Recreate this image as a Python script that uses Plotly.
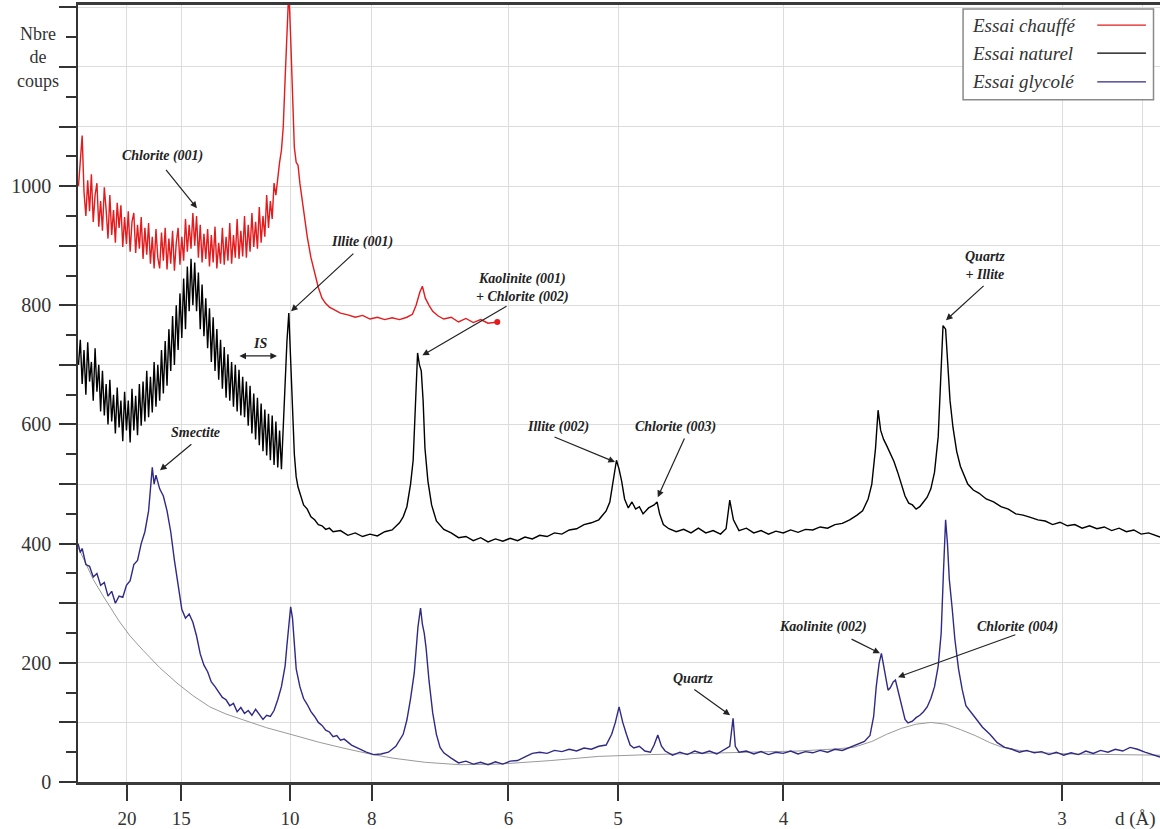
import numpy as np
import plotly.graph_objects as go

# ---------------- data (x = 2-theta in degrees, Cu K-alpha; y = counts) ----------------
LAMBDA = 1.5406
d_ticks = [20, 15, 10, 8, 6, 5, 4, 3]
d_labels = ["20", "15", "10", "8", "6", "5", "4", "3"]

red_2theta = [3.10, 3.15, 3.20, 3.25, 3.30, 3.35, 3.40, 3.45, 3.50, 3.55,
              3.60, 3.65, 3.70, 3.75, 3.80, 3.85, 3.90, 3.95, 4.00, 4.05,
              4.10, 4.15, 4.20, 4.25, 4.30, 4.35, 4.40, 4.45, 4.50, 4.55,
              4.60, 4.65, 4.70, 4.75, 4.80, 4.85, 4.90, 4.95, 5.00, 5.05,
              5.10, 5.15, 5.20, 5.25, 5.30, 5.35, 5.40, 5.45, 5.50, 5.55,
              5.60, 5.65, 5.70, 5.75, 5.80, 5.85, 5.90, 5.95, 6.00, 6.05,
              6.10, 6.15, 6.20, 6.25, 6.30, 6.35, 6.40, 6.45, 6.50, 6.55,
              6.60, 6.65, 6.70, 6.75, 6.80, 6.85, 6.90, 6.95, 7.00, 7.05,
              7.10, 7.15, 7.20, 7.25, 7.30, 7.35, 7.40, 7.45, 7.50, 7.55,
              7.60, 7.65, 7.70, 7.75, 7.80, 7.85, 7.90, 7.95, 8.00, 8.05,
              8.10, 8.15, 8.20, 8.25, 8.30, 8.35, 8.40, 8.45, 8.50, 8.55,
              8.60, 8.65, 8.70, 8.75, 8.80, 8.85, 8.90, 8.95, 9.00, 9.05,
              9.10, 9.20, 9.30, 9.40, 9.50, 9.60, 9.70, 9.80, 9.90, 10.05,
              10.20, 10.40, 10.60, 10.80, 11.00, 11.20, 11.40, 11.60, 11.80, 12.00,
              12.15, 12.25, 12.35, 12.42, 12.50, 12.60, 12.70, 12.85, 13.00, 13.20,
              13.40, 13.60, 13.80, 14.00, 14.20, 14.45]
red_counts = [1000, 1040, 1085, 990, 950, 1010, 958, 1020, 940, 985,
              1005, 932, 975, 925, 998, 960, 912, 985, 918, 960,
              905, 972, 930, 968, 898, 948, 903, 958, 890, 940,
              955, 888, 935, 895, 948, 878, 930, 885, 938, 870,
              915, 862, 928, 880, 862, 922, 875, 930, 860, 912,
              870, 925, 858, 905, 930, 868, 915, 875, 945, 890,
              935, 895, 955, 900, 950, 880, 935, 872, 920, 878,
              928, 865, 918, 872, 932, 862, 905, 870, 930, 868,
              915, 875, 938, 870, 918, 880, 945, 878, 925, 882,
              950, 880, 935, 890, 955, 898, 940, 895, 965, 905,
              950, 915, 985, 930, 975, 945, 1005, 985, 1015, 1040,
              1060, 1100, 1180, 1250, 1330, 1250, 1150, 1065, 1040, 1035,
              1005, 960, 915, 880, 855, 830, 812, 803, 797, 792,
              787, 784, 780, 783, 777, 780, 776, 779, 776, 780,
              785, 800, 822, 832, 812, 800, 790, 782, 777, 780,
              772, 778, 771, 776, 770, 772]

black_2theta = [3.10, 3.15, 3.20, 3.25, 3.30, 3.35, 3.40, 3.45, 3.50, 3.55,
                3.60, 3.65, 3.70, 3.75, 3.80, 3.85, 3.90, 3.95, 4.00, 4.05,
                4.10, 4.15, 4.20, 4.25, 4.30, 4.35, 4.40, 4.45, 4.50, 4.55,
                4.60, 4.65, 4.70, 4.75, 4.80, 4.85, 4.90, 4.95, 5.00, 5.05,
                5.10, 5.15, 5.20, 5.25, 5.30, 5.35, 5.40, 5.45, 5.50, 5.55,
                5.60, 5.65, 5.70, 5.75, 5.80, 5.85, 5.90, 5.95, 6.00, 6.05,
                6.10, 6.15, 6.20, 6.25, 6.30, 6.35, 6.40, 6.45, 6.50, 6.55,
                6.60, 6.65, 6.70, 6.75, 6.80, 6.85, 6.90, 6.95, 7.00, 7.05,
                7.10, 7.15, 7.20, 7.25, 7.30, 7.35, 7.40, 7.45, 7.50, 7.55,
                7.60, 7.65, 7.70, 7.75, 7.80, 7.85, 7.90, 7.95, 8.00, 8.05,
                8.10, 8.15, 8.20, 8.25, 8.30, 8.35, 8.40, 8.45, 8.50, 8.55,
                8.60, 8.65, 8.70, 8.75, 8.80,
                8.85, 8.9, 8.95, 9.0, 9.05, 9.1, 9.2, 9.3, 9.4, 9.5,
                9.6, 9.7, 9.8, 9.9, 10.0, 10.2, 10.4, 10.6, 10.8, 11.0,
                11.2, 11.4, 11.6, 11.8, 11.9, 12.0, 12.1, 12.17, 12.22, 12.29,
                12.34, 12.39, 12.44, 12.49, 12.57, 12.67, 12.8, 13.0, 13.2, 13.4,
                13.6, 13.8, 14.0, 14.2, 14.4, 14.6, 14.8, 15.0, 15.2, 15.4,
                15.6, 15.8, 16.0, 16.2, 16.4, 16.6, 16.8, 17.0, 17.2, 17.4,
                17.5, 17.6, 17.68, 17.75, 17.82, 17.9, 18.0, 18.1, 18.2, 18.3,
                18.4, 18.55, 18.7, 18.78, 18.85, 18.95, 19.1, 19.3, 19.5, 19.7,
                19.9, 20.1, 20.3, 20.5, 20.65, 20.75, 20.85, 21.0, 21.2, 21.4,
                21.6, 21.8, 22.0, 22.2, 22.4, 22.6, 22.8, 23.0, 23.2, 23.4,
                23.6, 23.8, 24.0, 24.2, 24.35, 24.5, 24.6, 24.7, 24.77, 24.84,
                24.92, 25.0, 25.1, 25.2, 25.3, 25.4, 25.5, 25.6, 25.7, 25.8,
                25.9, 26.0, 26.1, 26.2, 26.3, 26.4, 26.47, 26.53, 26.6, 26.66,
                26.72, 26.8, 26.9, 27.0, 27.1, 27.2, 27.35, 27.5, 27.7, 27.9,
                28.1, 28.3, 28.5, 28.7, 28.9, 29.1, 29.3, 29.5, 29.7, 29.9,
                30.1, 30.3, 30.5, 30.7, 30.9, 31.1, 31.3, 31.5, 31.7, 31.9,
                32.1, 32.41]
black_counts = [700, 742, 668, 725, 650, 738, 672, 705, 640, 728,
                655, 700, 622, 690, 615, 668, 600, 675, 605, 650,
                585, 662, 595, 640, 572, 655, 590, 640, 570, 660,
                590, 648, 582, 668, 598, 672, 605, 690, 612, 680,
                620, 705, 630, 700, 640, 725, 652, 740, 665, 760,
                690, 782, 700, 800, 725, 820, 745, 845, 760, 865,
                790, 878, 800, 872, 790, 855, 760, 835, 748, 812,
                728, 795, 705, 780, 690, 760, 675, 742, 660, 730,
                645, 718, 640, 705, 630, 700, 622, 692, 615, 680,
                612, 672, 598, 665, 585, 652, 575, 645, 565, 635,
                555, 625, 548, 618, 540, 615, 532, 605, 528, 590,
                525, 600, 680, 740, 787,
                700, 615, 550, 512, 495, 485, 465, 458, 445, 440,
                432, 430, 424, 426, 420, 422, 414, 418, 412, 416,
                413, 420, 423, 435, 445, 462, 500, 540, 610, 720,
                700, 690, 640, 560, 505, 465, 438, 424, 418, 410,
                412, 405, 410, 403, 408, 404, 409, 405, 411, 408,
                414, 412, 418, 416, 423, 425, 432, 435, 440, 455,
                470, 505, 540, 525, 505, 475, 460, 470, 458, 462,
                450, 460, 465, 470, 450, 432, 425, 420, 424, 418,
                426, 418, 422, 416, 425, 473, 440, 422, 426, 418,
                422, 416, 421, 418, 423, 419, 424, 423, 428, 426,
                432, 434, 440, 448, 455, 475, 500, 560, 624, 590,
                575, 565, 552, 538, 520, 500, 480, 468, 465, 458,
                462, 470, 478, 492, 520, 580, 690, 766, 760, 690,
                640, 595, 555, 530, 515, 500, 490, 485, 475, 470,
                462, 458, 450, 448, 444, 440, 438, 432, 436, 430,
                432, 426, 430, 425, 428, 422, 426, 420, 423, 416,
                418, 411]

blue_2theta = [3.09, 3.15, 3.2, 3.3, 3.4, 3.5, 3.6, 3.7, 3.8, 3.9,
               4.0, 4.1, 4.2, 4.3, 4.4, 4.5, 4.6, 4.7, 4.8, 4.9,
               5.0, 5.05, 5.1, 5.15, 5.2, 5.3, 5.4, 5.5, 5.6, 5.7,
               5.8, 5.9, 6.0, 6.1, 6.2, 6.3, 6.4, 6.5, 6.6, 6.7,
               6.8, 6.9, 7.0, 7.1, 7.2, 7.3, 7.4, 7.5, 7.6, 7.7,
               7.8, 7.9, 8.0, 8.1, 8.2, 8.3, 8.4, 8.5, 8.6, 8.7,
               8.75, 8.8, 8.85, 8.9, 8.95, 9.0, 9.1, 9.2, 9.3, 9.4,
               9.5, 9.6, 9.7, 9.8, 9.9, 10.0, 10.1, 10.2, 10.3, 10.5,
               10.7, 10.9, 11.1, 11.3, 11.5, 11.7, 11.9, 12.0, 12.1, 12.2,
               12.3, 12.37, 12.42, 12.47, 12.52, 12.6, 12.7, 12.8, 12.9, 13.0,
               13.2, 13.4, 13.6, 13.8, 14.0, 14.2, 14.4, 14.6, 14.8, 15.0,
               15.2, 15.4, 15.6, 15.8, 16.0, 16.2, 16.4, 16.6, 16.8, 17.0,
               17.2, 17.4, 17.55, 17.65, 17.75, 17.85, 17.95, 18.05, 18.15, 18.3,
               18.45, 18.6, 18.7, 18.8, 18.9, 19.0, 19.2, 19.4, 19.6, 19.8,
               20.0, 20.2, 20.4, 20.6, 20.75, 20.84, 20.9, 21.0, 21.2, 21.4,
               21.6, 21.8, 22.0, 22.2, 22.4, 22.6, 22.8, 23.0, 23.2, 23.4,
               23.6, 23.8, 24.0, 24.2, 24.4, 24.55, 24.65, 24.72, 24.8, 24.86,
               24.92, 24.98, 25.04, 25.1, 25.18, 25.24, 25.3, 25.4, 25.5, 25.58,
               25.7, 25.8, 25.9, 26.0, 26.1, 26.2, 26.3, 26.4, 26.48, 26.54,
               26.6, 26.65, 26.7, 26.78, 26.85, 26.95, 27.05, 27.15, 27.3, 27.45,
               27.6, 27.8, 28.0, 28.2, 28.4, 28.6, 28.8, 29.0, 29.2, 29.4,
               29.6, 29.8, 30.0, 30.2, 30.4, 30.6, 30.8, 31.0, 31.2, 31.4,
               31.6, 31.8, 32.0, 32.2, 32.41]
blue_counts = [400, 385, 392, 365, 362, 344, 350, 330, 335, 312,
               320, 300, 312, 310, 330, 338, 365, 372, 400, 420,
               455, 490, 528, 500, 515, 492, 480, 455, 420, 372,
               330, 290, 275, 282, 268, 245, 215, 196, 185, 168,
               160, 150, 142, 138, 128, 132, 118, 125, 115, 120,
               112, 122, 113, 105, 112, 110, 120, 138, 160, 195,
               230, 270, 294, 275, 230, 190, 160, 140, 130, 118,
               110, 100, 95, 87, 84, 76, 78, 70, 72, 62,
               56, 50, 46, 47, 50, 60, 80, 104, 140, 183,
               260, 292, 265, 250, 225, 170, 116, 80, 58, 49,
               40, 32, 35, 30, 33, 29, 34, 30, 35, 36,
               42, 48, 50, 48, 53, 51, 55, 52, 57, 55,
               60, 62, 80, 100, 126, 100, 80, 62, 57, 60,
               52, 50, 62, 79, 60, 52, 45, 50, 46, 52,
               48, 52, 47, 54, 60, 107, 60, 50, 52, 47,
               51, 46, 50, 48, 52, 47, 51, 49, 53, 50,
               55, 53, 58, 62, 68, 78, 110, 160, 200, 216,
               195, 170, 154, 158, 168, 171, 155, 128, 105, 99,
               102, 108, 112, 118, 126, 140, 160, 195, 250, 350,
               440, 400, 340, 290, 240, 190, 155, 128, 115, 104,
               92, 80, 66, 58, 55, 50, 53, 49, 51, 46,
               50, 45, 49, 46, 52, 48, 53, 50, 55, 52,
               58, 55, 50, 46, 42]

background_2theta = [3.09, 3.3, 3.5, 3.75, 3.95, 4.2, 4.5, 4.85, 5.3, 5.77,
                     6.2, 6.66, 7.1, 7.56, 8.2, 8.91, 9.6, 10.27, 11.0, 11.62,
                     12.5, 13.44, 14.5, 15.9, 17.2, 18.6, 19.9, 21.3, 22.6, 23.5,
                     24.1, 24.6, 25.0, 25.4, 25.8, 26.2, 26.6, 27.0, 27.4, 27.8,
                     28.1, 28.6, 29.2, 30.0, 31.0, 32.41]
background_counts = [394, 365, 340, 314, 294, 270, 245, 221, 192, 166,
                     145, 126, 114, 104, 91, 79, 67, 57, 47, 40,
                     33, 29, 30, 36, 43, 46, 48, 50, 52, 55,
                     58, 68, 80, 90, 97, 100, 97, 88, 78, 66,
                     59, 53, 49, 47, 46, 45]

series_names = ["Essai chauffé", "Essai naturel", "Essai glycolé"]
series_colors = ["#e41a1c", "#000000", "#2e2a86"]

# peak labels: text, text position (2theta, counts), arrow tail, arrow head
peak_labels = [
    ("Chlorite (001)", 5.39, 1050, 5.44, 1030, 6.31, 963),
    ("Illite (001)", 10.78, 906, 10.59, 889, 8.86, 790),
    ("Kaolinite (001)<br>+ Chlorite (002)", 15.12, 829, 14.74, 800, 12.42, 716),
    ("Illite (002)", 16.09, 596, 15.96, 580, 17.64, 537),
    ("Chlorite (003)", 19.27, 596, 19.54, 579, 18.80, 478),
    ("Quartz<br>+ Illite", 27.67, 866, 27.67, 835, 26.61, 775),
    ("Smectite", 6.26, 587, 6.20, 569, 5.31, 523),
    ("Quartz", 19.75, 174, 19.75, 157, 20.76, 112),
    ("Kaolinite (002)", 23.28, 260, 24.01, 241, 24.82, 216),
    ("Chlorite (004)", 28.56, 260, 28.53, 248, 25.31, 176),
]

# ---------------- figure ----------------
def two_theta(d):
    return 2 * np.degrees(np.arcsin(LAMBDA / (2 * d)))

tick_pos = [two_theta(d) for d in d_ticks]
SERIF = "Liberation Serif"

fig = go.Figure()
fig.add_trace(go.Scatter(x=background_2theta, y=background_counts, mode="lines",
                         line=dict(color="#9a9a9a", width=1), name="fond", showlegend=False))
fig.add_trace(go.Scatter(x=blue_2theta, y=blue_counts, mode="lines",
                         line=dict(color=series_colors[2], width=1.4), name=series_names[2]))
fig.add_trace(go.Scatter(x=black_2theta, y=black_counts, mode="lines",
                         line=dict(color=series_colors[1], width=1.4), name=series_names[1]))
fig.add_trace(go.Scatter(x=red_2theta, y=red_counts, mode="lines",
                         line=dict(color=series_colors[0], width=1.4), name=series_names[0]))
fig.add_trace(go.Scatter(x=[red_2theta[-1]], y=[red_counts[-1]], mode="markers",
                         marker=dict(color=series_colors[0], size=6), showlegend=False,
                         hoverinfo="skip"))

annotations = []
for text, tx, ty, ax0, ay0, hx, hy in peak_labels:
    annotations.append(dict(x=tx, y=ty, text="<b><i>" + text + "</i></b>", showarrow=False,
                            font=dict(family=SERIF, size=14, color="#222")))
    annotations.append(dict(x=hx, y=hy, ax=ax0, ay=ay0, axref="x", ayref="y", text="",
                            showarrow=True, arrowhead=2, arrowsize=1.1, arrowwidth=1.2,
                            arrowcolor="#222"))
# IS double arrow
annotations.append(dict(x=8.02, y=736, text="<b><i>IS</i></b>", showarrow=False,
                        font=dict(family=SERIF, size=14, color="#222")))
annotations.append(dict(x=8.48, y=715, ax=7.42, ay=715, axref="x", ayref="y", text="",
                        showarrow=True, arrowhead=2, arrowside="end+start", arrowsize=1.1,
                        arrowwidth=1.2, arrowcolor="#222"))
# axis titles
annotations.append(dict(xref="paper", yref="paper", x=-0.037, y=0.932, text="Nbre<br>de<br>coups",
                        showarrow=False, font=dict(family=SERIF, size=18, color="#333"),
                        xanchor="center", yanchor="middle"))
annotations.append(dict(xref="paper", yref="paper", x=0.9985, y=-0.048, text="d (Å)",
                        showarrow=False, font=dict(family=SERIF, size=19, color="#333"),
                        xanchor="right", yanchor="middle"))

# manual legend (text left, line sample right)
shapes = [dict(type="rect", xref="paper", yref="paper", x0=0.818, x1=0.994, y0=0.878, y1=0.995,
               line=dict(color="#8a8a8a", width=1.5), fillcolor="white", layer="above")]
legend_rows = [0.974, 0.938, 0.901]
for name, color, yy in zip(series_names, series_colors, legend_rows):
    annotations.append(dict(xref="paper", yref="paper", x=0.8244, y=yy, text="<i>" + name + "</i>",
                            showarrow=False, xanchor="left", yanchor="middle",
                            font=dict(family=SERIF, size=19, color="#333")))
    shapes.append(dict(type="line", xref="paper", yref="paper", x0=0.942, x1=0.987, y0=yy, y1=yy,
                       line=dict(color=color, width=1.3), layer="above"))
# extra vertical grid line (d = 2.8 A)
shapes.append(dict(type="line", xref="x", yref="paper", x0=two_theta(2.8), x1=two_theta(2.8),
                   y0=0, y1=1, line=dict(color="#dcdcdc", width=1), layer="below"))

fig.update_layout(
    width=1160, height=829,
    margin=dict(l=78, r=0, t=5, b=47, autoexpand=False),
    paper_bgcolor="white", plot_bgcolor="white",
    showlegend=False,
    annotations=annotations, shapes=shapes,
    xaxis=dict(range=[3.087, 32.41], tickvals=tick_pos, ticktext=d_labels,
               ticks="outside", ticklen=16, tickwidth=2, tickcolor="#333",
               showline=True, linewidth=2.5, linecolor="#3a3a3a", mirror=True,
               showgrid=True, gridcolor="#dcdcdc", gridwidth=1, zeroline=False,
               tickfont=dict(family=SERIF, size=19, color="#333"), ticklabelstandoff=1),
    yaxis=dict(range=[0, 1304], tickvals=list(range(0, 1301, 100)),
               ticktext=[str(v) if v % 200 == 0 and v <= 1000 else "" for v in range(0, 1301, 100)],
               ticks="outside", ticklen=17, tickwidth=1.5, tickcolor="#333",
               showline=True, linewidth=1.5, linecolor="#333",
               showgrid=True, gridcolor="#dcdcdc", gridwidth=1, zeroline=False,
               minor=dict(dtick=50, ticks="outside", ticklen=10, tickwidth=1.5,
                          tickcolor="#333", showgrid=False),
               tickfont=dict(family=SERIF, size=20, color="#333"), ticklabelstandoff=4),
)

# remove the browser's default 8px page margin so the figure sits at the window's corner
fig.write_html("out.html", config={"displayModeBar": False},
               post_script="document.body.style.margin='0px';")
